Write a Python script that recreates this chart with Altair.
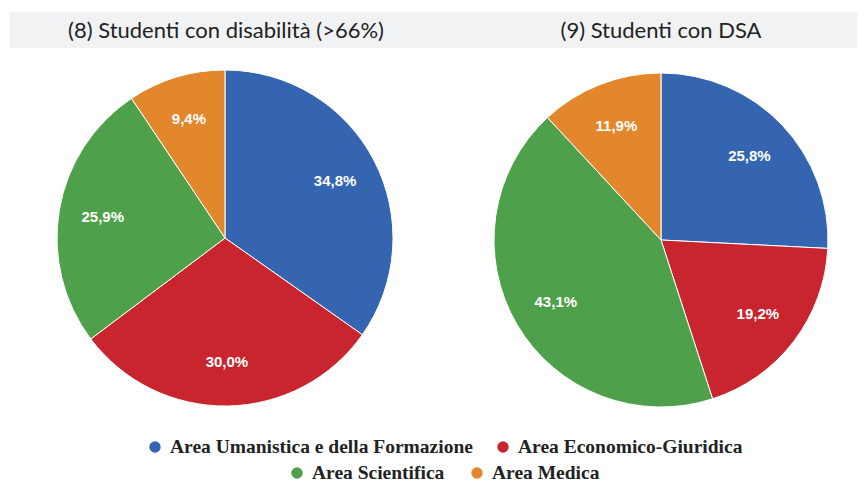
import altair as alt
import pandas as pd

categories = ["Area Umanistica e della Formazione", "Area Economico-Giuridica",
              "Area Scientifica", "Area Medica"]
colors = ["#3565b0", "#c9252e", "#4ea14a", "#e3872d"]
values_disab = [34.8, 30.0, 25.9, 9.4]
values_dsa = [25.8, 19.2, 43.1, 11.9]
titles = ["(8) Studenti con disabilità (>66%)", "(9) Studenti con DSA"]


def make_df(vals):
    return pd.DataFrame({
        "cat": categories,
        "value": vals,
        "ord": list(range(len(categories))),
        "label": [f"{v:.1f}".replace(".", ",") + "%" for v in vals],
    })


color_scale = alt.Scale(domain=categories, range=colors)


def pie(vals, cx, cy, r, lr):
    base = alt.Chart(make_df(vals)).encode(
        theta=alt.Theta("value:Q", stack=True),
        order=alt.Order("ord:Q"),
    )
    arc = base.mark_arc(radius=r, stroke="white", strokeWidth=1).encode(
        color=alt.Color("cat:N", scale=color_scale, legend=None),
        x=alt.value(cx), y=alt.value(cy),
    )
    txt = base.mark_text(radius=lr, font="Liberation Sans", fontWeight="bold",
                         fontSize=15, color="white").encode(
        text="label:N", x=alt.value(cx), y=alt.value(cy),
    )
    return alt.layer(arc, txt)


band = alt.Chart(pd.DataFrame({"a": [0]})).mark_rect(color="#f1f2f4").encode(
    x=alt.value(2), x2=alt.value(857), y=alt.value(4), y2=alt.value(40))

t1 = alt.Chart(pd.DataFrame({"t": [titles[0]]})).mark_text(
    font="Lato", fontSize=22, color="#222222").encode(
    text="t:N", x=alt.value(218), y=alt.value(23))
t2 = alt.Chart(pd.DataFrame({"t": [titles[1]]})).mark_text(
    font="Lato", fontSize=22, color="#222222").encode(
    text="t:N", x=alt.value(653), y=alt.value(23))

leg_pos = [(147, 439), (495, 439), (289, 465), (469, 465)]
leg_layers = []
for cat, col, (lx, ly) in zip(categories, colors, leg_pos):
    d = pd.DataFrame({"cat": [cat]})
    leg_layers.append(alt.Chart(d).mark_point(filled=True, size=130, opacity=1,
                                              color=col).encode(
        x=alt.value(lx), y=alt.value(ly)))
    leg_layers.append(alt.Chart(d).mark_text(
        font="Liberation Serif", fontWeight="bold", fontSize=19.5, align="left",
        color="#222222").encode(text="cat:N", x=alt.value(lx + 15), y=alt.value(ly)))

chart = alt.layer(
    band, t1, t2,
    pie(values_disab, 217, 230, 168, 124),
    pie(values_dsa, 653, 232, 167, 122),
    *leg_layers,
).resolve_scale(theta="independent").properties(
    width=849, height=474, autosize=alt.AutoSizeParams(type="none"),
    padding=0, background="white",
).configure_view(stroke=None)

chart.save("out.html", embed_options={"renderer": "svg", "actions": False})
